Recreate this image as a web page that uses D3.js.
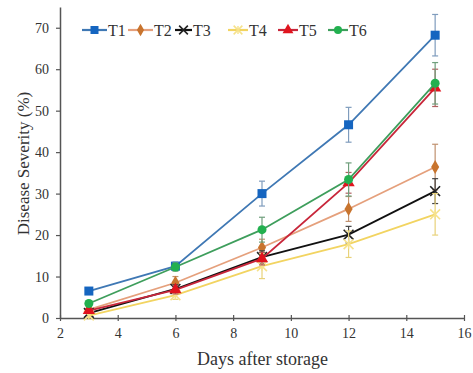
<!DOCTYPE html>
<html>
<head>
<meta charset="utf-8">
<script src="https://cdn.jsdelivr.net/npm/d3@7"></script>
<style>
  body { margin: 0; background: #fff; }
  text { font-family: "Liberation Serif", "Times New Roman", serif; fill: #333; }
</style>
</head>
<body>
<div id="chart_container"></div>
<script>
// data
const days = [3, 6, 9, 12, 15];
const seriesNames = ["T1", "T2", "T3", "T4", "T5", "T6"];
const t1 = [6.5, 12.5, 30, 46.6, 68.2];
const t2 = [2, 8.5, 17, 26.3, 36.4];
const t3 = [1.2, 7, 14.7, 20.1, 30.6];
const t4 = [0.6, 5.5, 12.5, 17.8, 25];
const t5 = [1.8, 6.8, 14.3, 32.6, 55.5];
const t6 = [3.5, 12.3, 21.3, 33.4, 56.6];
const t1Err = [0.6, 1, 3, 4.2, 5];
const t2Err = [0.6, 1.5, 2, 3, 5.5];
const t3Err = [0.5, 1, 1.5, 2, 3];
const t4Err = [0.5, 1, 3, 3.2, 5];
const t5Err = [0.5, 1, 1.5, 2.5, 4.5];
const t6Err = [0.6, 1, 3, 4, 5];
const xTicks = [2, 4, 6, 8, 10, 12, 14, 16];
const yTicks = [0, 10, 20, 30, 40, 50, 60, 70];

const styles = {
    T1: { line: "#3f78b4", mark: "#1565c0", err: "#7f9cbd", shape: "square" },
    T2: { line: "#e5a07c", mark: "#c8742e", err: "#c0916f", shape: "diamond" },
    T3: { line: "#111111", mark: "#222222", err: "#444444", shape: "cross" },
    T4: { line: "#f2d461", mark: "#f6e28c", err: "#e8d27a", shape: "star" },
    T5: { line: "#c8263a", mark: "#e0141e", err: "#b06060", shape: "triangle" },
    T6: { line: "#3e9e5c", mark: "#22b04f", err: "#6f9f7c", shape: "circle" }
};

const allValues = [t1, t2, t3, t4, t5, t6];
const allErr = [t1Err, t2Err, t3Err, t4Err, t5Err, t6Err];
const series = seriesNames.map((name, i) => ({
    name: name,
    points: days.map((d, j) => ({ day: d, value: allValues[i][j], err: allErr[i][j] }))
}));

const margin = { top: 7, right: 9, bottom: 55, left: 60 },
    width = 473 - margin.left - margin.right,
    height = 373 - margin.top - margin.bottom;

const svg = d3.select("#chart_container")
    .append("svg")
    .attr("width", 473)
    .attr("height", 373)
    .append("g")
    .attr("transform", `translate(${margin.left}, ${margin.top})`);

const x = d3.scaleLinear().domain([2, 16]).range([0, width]);
const y = d3.scaleLinear().domain([0, 75]).range([height, 0]);

// axes
const xAxis = svg.append("g")
    .attr("transform", `translate(0, ${height})`)
    .call(d3.axisBottom(x).tickValues(xTicks).tickSizeInner(4).tickSizeOuter(0).tickPadding(6));
xAxis.selectAll(".tick line").attr("y1", -3).attr("y2", 3);
const yAxis = svg.append("g")
    .call(d3.axisLeft(y).tickValues(yTicks).tickSize(4).tickSizeOuter(0).tickPadding(7));
[xAxis, yAxis].forEach(a => {
    a.select(".domain").attr("stroke", "#555").attr("stroke-width", 1.5);
    a.selectAll(".tick line").attr("stroke", "#555").attr("stroke-width", 1.2);
    a.selectAll("text").style("font-size", "14px").style("font-family", "Liberation Serif, serif").attr("fill", "#444");
});

svg.append("text")
    .attr("x", width / 2 + 0.5)
    .attr("y", height + 47)
    .attr("text-anchor", "middle")
    .style("font-size", "18px")
    .text("Days after storage");

svg.append("text")
    .attr("transform", `translate(${-31}, ${height / 2 + 1}) rotate(-90)`)
    .attr("text-anchor", "middle")
    .style("font-size", "17px")
    .text("Disease Severity (%)");

function drawMarker(g, shape, color, size) {
    if (shape === "square") {
        g.append("rect").attr("x", -size / 2).attr("y", -size / 2)
            .attr("width", size).attr("height", size).attr("fill", color);
    } else if (shape === "circle") {
        g.append("circle").attr("r", size / 2).attr("fill", color);
    } else if (shape === "diamond") {
        g.append("path").attr("d", d3.symbol(d3.symbolDiamond, size * size * 0.7)()).attr("fill", color);
    } else if (shape === "triangle") {
        g.append("path").attr("d", d3.symbol(d3.symbolTriangle, size * size * 0.8)()).attr("fill", color);
    } else if (shape === "cross") {
        g.append("path").attr("d", d3.symbol(d3.symbolX, size * size * 0.8)())
            .attr("fill", "none").attr("stroke", color).attr("stroke-width", 1.6);
    } else if (shape === "star") {
        g.append("path").attr("d", d3.symbol(d3.symbolX, size * size * 0.8)())
            .attr("fill", "none").attr("stroke", color).attr("stroke-width", 1.6);
        g.append("line").attr("x1", 0).attr("x2", 0).attr("y1", -size / 2).attr("y2", size / 2)
            .attr("stroke", color).attr("stroke-width", 1.4);
    }
}

const line = d3.line().x(d => x(d.day)).y(d => y(d.value));

series.forEach(s => {
    const st = styles[s.name];
    const g = svg.append("g");

    // error bars
    const eb = g.selectAll(".err").data(s.points).enter().append("g").classed("err", true);
    eb.append("line")
        .attr("x1", d => x(d.day)).attr("x2", d => x(d.day))
        .attr("y1", d => y(d.value - d.err)).attr("y2", d => y(d.value + d.err))
        .attr("stroke", st.err).attr("stroke-width", 1.2);
    eb.append("line")
        .attr("x1", d => x(d.day) - 3).attr("x2", d => x(d.day) + 3)
        .attr("y1", d => y(d.value + d.err)).attr("y2", d => y(d.value + d.err))
        .attr("stroke", st.err).attr("stroke-width", 1.2);
    eb.append("line")
        .attr("x1", d => x(d.day) - 3).attr("x2", d => x(d.day) + 3)
        .attr("y1", d => y(d.value - d.err)).attr("y2", d => y(d.value - d.err))
        .attr("stroke", st.err).attr("stroke-width", 1.2);

    g.append("path")
        .datum(s.points)
        .attr("d", line)
        .attr("fill", "none")
        .attr("stroke", st.line)
        .attr("stroke-width", 1.8);

    g.selectAll(".mark").data(s.points).enter().append("g")
        .attr("transform", d => `translate(${x(d.day)}, ${y(d.value)})`)
        .each(function () { drawMarker(d3.select(this), st.shape, st.mark, 9); });
});

// legend
const legendX = [22, 68, 115, 168, 218, 268];
const legendLen = [25, 25, 17, 20, 20, 20];
const legend = svg.append("g").attr("transform", "translate(0, 23)");
series.forEach((s, i) => {
    const st = styles[s.name];
    const lg = legend.append("g").attr("transform", `translate(${legendX[i]}, 0)`);
    lg.append("line").attr("x1", 0).attr("x2", legendLen[i]).attr("y1", 0).attr("y2", 0)
        .attr("stroke", st.line).attr("stroke-width", 2.2);
    const m = lg.append("g").attr("transform", `translate(${legendLen[i] / 2}, 0)`);
    drawMarker(m, st.shape, st.mark, 8);
    lg.append("text").attr("x", legendLen[i] + 1).attr("y", 5.5)
        .style("font-size", "16px").attr("fill", "#222")
        .text(s.name);
});
</script>
</body>
</html>
